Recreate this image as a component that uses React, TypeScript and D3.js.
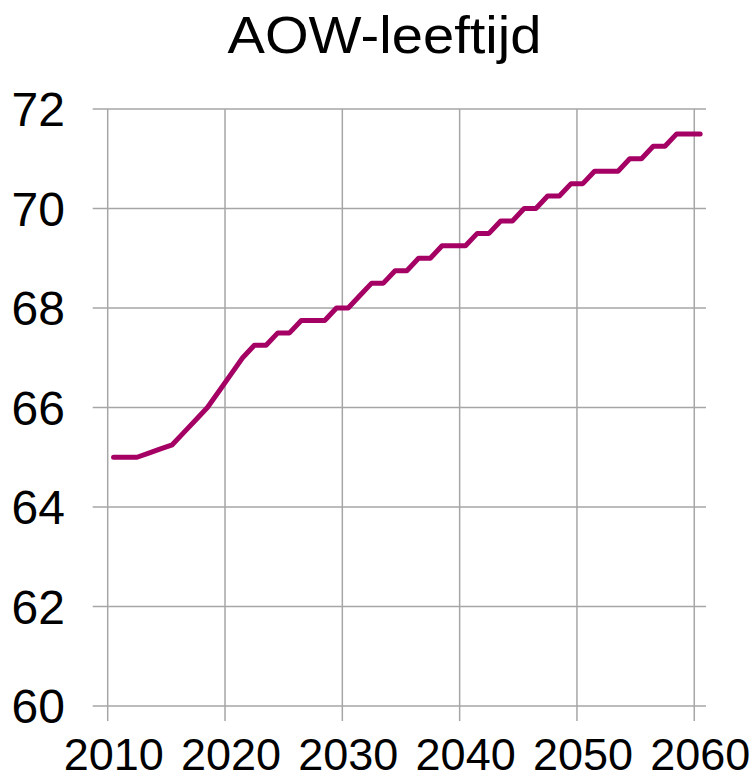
import React from "react";
import * as d3 from "d3";

const title = "AOW-leeftijd";
const years: number[] = d3.range(2010, 2061);
const aowAge: number[] = [
  65.0, 65.0, 65.0, 65.083, 65.167, 65.25, 65.5, 65.75, 66.0, 66.333,
  66.667, 67.0, 67.25, 67.25, 67.5, 67.5, 67.75, 67.75, 67.75, 68.0,
  68.0, 68.25, 68.5, 68.5, 68.75, 68.75, 69.0, 69.0, 69.25, 69.25,
  69.25, 69.5, 69.5, 69.75, 69.75, 70.0, 70.0, 70.25, 70.25, 70.5,
  70.5, 70.75, 70.75, 70.75, 71.0, 71.0, 71.25, 71.25, 71.5, 71.5,
  71.5,
];
const yTicks: number[] = [60, 62, 64, 66, 68, 70, 72];
const xTicks: number[] = [2010, 2020, 2030, 2040, 2050, 2060];

export default function App() {
  const W = 756;
  const H = 781;
  const left = 107.7;
  const right = 706;
  const top = 109;
  const bottom = 706;
  const tickLen = 15;

  const x = d3.scaleLinear().domain([2010, 2061]).range([left, right]);
  const y = d3.scaleLinear().domain([60, 72]).range([bottom, top]);

  const line = d3
    .line<number>()
    .x((_, i) => x(years[i] + 0.5))
    .y((d) => y(d));

  const grid = "#a6a6a6";
  const font = "'Liberation Sans', Arial, sans-serif";

  return (
    <svg
      width={W}
      height={H}
      style={{ position: "absolute", left: 0, top: 0, background: "#fff" }}
    >
      <text
        x={384.5}
        y={53}
        textAnchor="middle"
        fontFamily={font}
        fontSize={52}
        textLength={314}
        lengthAdjust="spacingAndGlyphs"
        fill="#000"
      >
        {title}
      </text>
      {yTicks.map((t) => (
        <line
          key={"h" + t}
          x1={left - tickLen}
          x2={right}
          y1={y(t)}
          y2={y(t)}
          stroke={grid}
          strokeWidth={1.5}
        />
      ))}
      {xTicks.map((t) => (
        <line
          key={"v" + t}
          x1={x(t)}
          x2={x(t)}
          y1={top}
          y2={bottom + tickLen}
          stroke={grid}
          strokeWidth={1.5}
        />
      ))}
      {yTicks.map((t) => (
        <text
          key={"yl" + t}
          x={65}
          y={y(t)}
          dy="0.36em"
          textAnchor="end"
          fontFamily={font}
          fontSize={48}
          fill="#000"
        >
          {t}
        </text>
      ))}
      {xTicks.map((t) => (
        <text
          key={"xl" + t}
          x={x(t) + 6}
          y={770}
          textAnchor="middle"
          fontFamily={font}
          fontSize={45}
          fill="#000"
        >
          {t}
        </text>
      ))}
      <path
        d={line(aowAge) || ""}
        fill="none"
        stroke="#A50064"
        strokeWidth={5}
        strokeLinejoin="round"
        strokeLinecap="round"
      />
    </svg>
  );
}
